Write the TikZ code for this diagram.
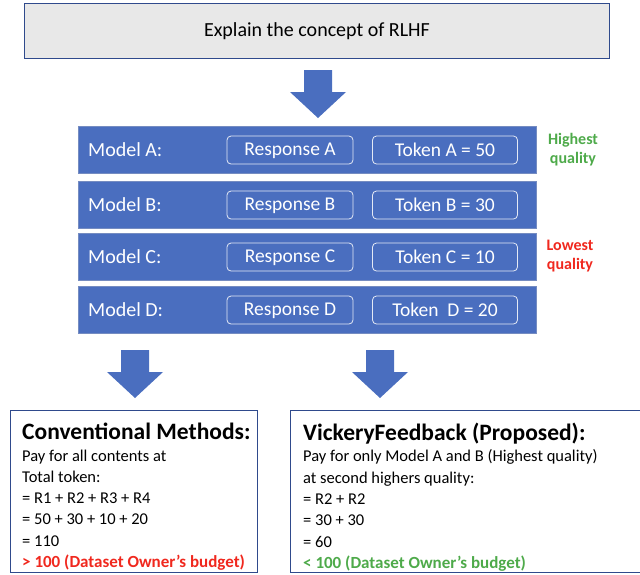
\documentclass[tikz,border=0pt]{standalone}
\usepackage{fontspec}
\setmainfont{Carlito}
\usepackage{xcolor}
\usetikzlibrary{positioning}
\usetikzlibrary{calc}
\definecolor{barblue}{HTML}{4A6EBF}
\definecolor{barline}{HTML}{3A5BA6}
\definecolor{promptgray}{HTML}{E8E8E8}
\definecolor{boxline}{HTML}{2F4A8C}
\definecolor{goodgreen}{HTML}{4EAA4A}
\definecolor{badred}{HTML}{F0281E}

\tikzset{
	prompt/.style={fill=promptgray, draw=boxline, minimum width=585pt, minimum height=55pt, font=\fontsize{20}{24}\selectfont},
	bar/.style={fill=barblue, draw=barline!70!white, line width=1pt, minimum width=458pt, minimum height=47pt},
	modellabel/.style={text=white, font=\fontsize{20}{24}\selectfont, inner sep=0pt, text depth=0pt},
	pill/.style={draw=white!85!barblue, line width=0.8pt, rounded corners=4pt, text=white, minimum height=28pt, inner sep=0pt, text depth=1pt, font=\fontsize{19.5}{24}\selectfont},
	resp/.style={pill, minimum width=126pt},
	tok/.style={pill, minimum width=145pt},
	quality/.style={font=\bfseries\fontsize{16}{21}\selectfont, align=center},
	resultbox/.style={draw=boxline, line width=0.8pt},
	resulttext/.style={anchor=north west, align=left, inner sep=0pt, font=\fontsize{16.5}{21.3}\selectfont},
	blockarrow/.style={fill=barblue}
}

\begin{document}
\begin{tikzpicture}[x=1pt, y=-1pt]
	\useasboundingbox (0,0) rectangle (640,574);
	
	% prompt
	\node[prompt] (prompt) at (317,31) {Explain the concept of RLHF};
	
	% model rows
	\foreach \m/\tok/\y in {A/Token A = 50/150, B/Token B = 30/205, C/Token C = 10/257, D/Token\ \ D = 20/310}
	{
		\node[bar] (bar\m) at (307,\y) {};
		\node[modellabel, anchor=west] (label\m) at (88,\y) {Model \m:};
		\node[resp] (resp\m) at (290,\y) {Response \m};
		\node[tok] (tok\m) at (445,\y) {\tok};
	}
	\node[quality, text=goodgreen] (highest) at (573,150) {Highest\\[-2pt]quality};
	\node[quality, text=badred] (lowest) at (570,256) {Lowest\\[-2pt]quality};
	
	% block arrows
	\coordinate (arrTop) at (318,70);
	\coordinate (arrLeft) at (135,350);
	\coordinate (arrRight) at (380,350);
	\foreach \c in {arrTop, arrLeft, arrRight}
	{
		\fill[blockarrow] ($(\c)+(-14,0)$) -- ($(\c)+(14,0)$) -- ($(\c)+(14,22)$) -- ($(\c)+(28,22)$)
			-- ($(\c)+(0,48)$) -- ($(\c)+(-28,22)$) -- ($(\c)+(-14,22)$) -- cycle;
	}
	
	% results
	\draw[resultbox] (10,410) rectangle (257,572);
	\draw[resultbox] (290,410) rectangle (650,572);
	\node[resulttext] (conventional) at (22,423) {{\bfseries\fontsize{23.5}{24}\selectfont Conventional Methods:}\\
		Pay for all contents at\\
		Total token:\\
		= R1 + R2 + R3 + R4\\
		= 50 + 30 + 10 + 20\\
		= 110\\
		\textcolor{badred}{\bfseries\fontsize{17}{21.3}\selectfont > 100 (Dataset Owner’s budget)}};
	\node[resulttext] (vickery) at (303,423) {{\bfseries\fontsize{23.5}{24}\selectfont VickeryFeedback (Proposed):}\\
		Pay for only Model A and B (Highest quality)\\
		at second highers quality:\\
		= R2 + R2\\
		= 30 + 30\\
		= 60\\
		\textcolor{goodgreen}{\bfseries\fontsize{17}{21.3}\selectfont < 100 (Dataset Owner’s budget)}};
\end{tikzpicture}
\end{document}
